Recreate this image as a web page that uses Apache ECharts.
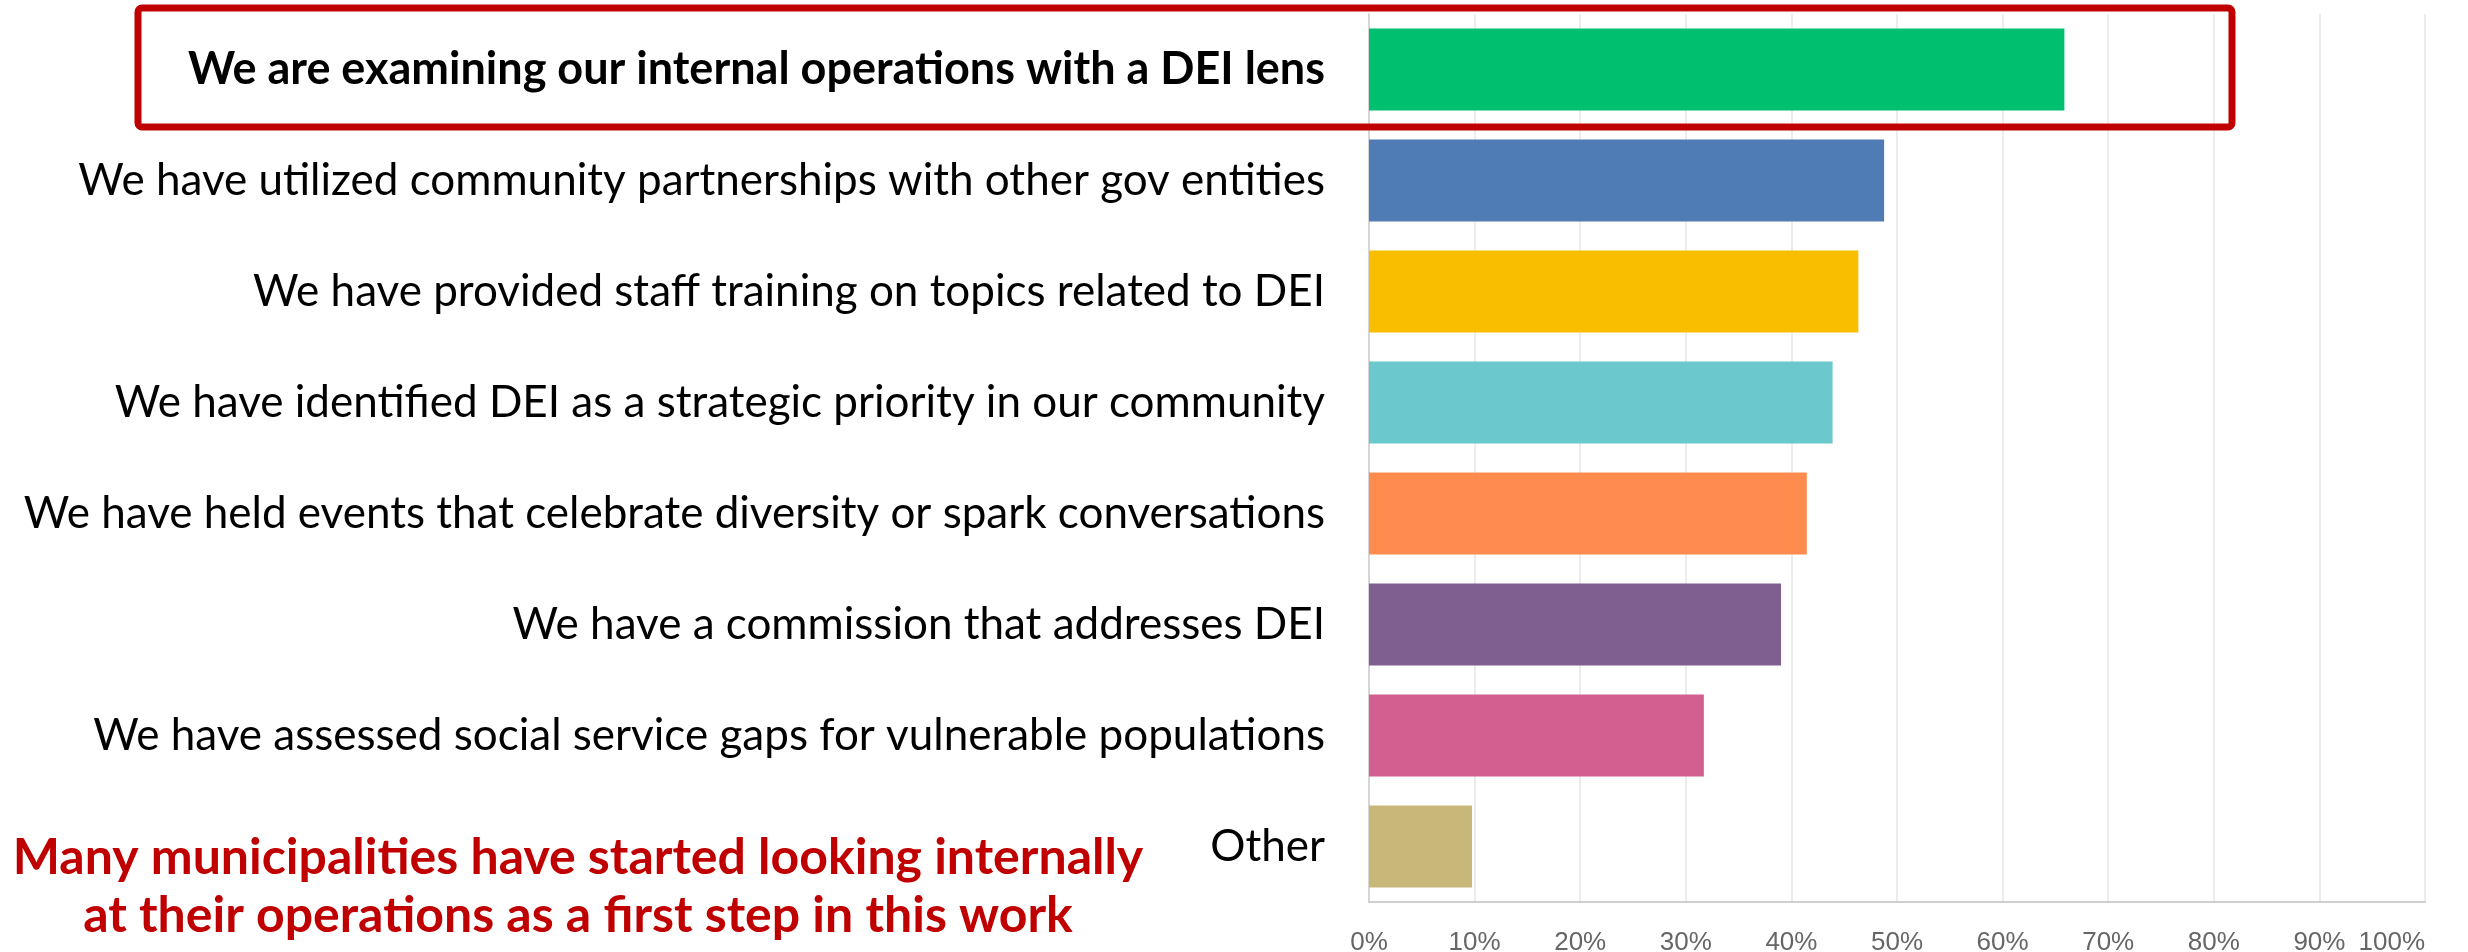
<!DOCTYPE html>
<html>
<head>
<meta charset="utf-8">
<script src="https://cdn.jsdelivr.net/npm/echarts@6/dist/echarts.min.js"></script>
<style>html,body{margin:0;padding:0;background:#fff;}#c{width:2468px;height:952px;}</style>
</head>
<body>
<div id="c"></div>
<script>
const categories = [
  "We are examining our internal operations with a DEI lens",
  "We have utilized community partnerships with other gov entities",
  "We have provided staff training on topics related to DEI",
  "We have identified DEI as a strategic priority in our community",
  "We have held events that celebrate diversity or spark conversations",
  "We have a commission that addresses DEI",
  "We have assessed social service gaps for vulnerable populations",
  "Other"
];
const values = [65.85, 48.78, 46.34, 43.90, 41.46, 39.02, 31.71, 9.76];
const barColors = ["#00bf6f", "#507cb6", "#f9be00", "#6bc8cd", "#ff8b4f", "#7f5f90", "#d25f90", "#c7b879"];
const tickLabels = ["0%", "10%", "20%", "30%", "40%", "50%", "60%", "70%", "80%", "90%", "100%"];
const noteLines = ["Many municipalities have started looking internally", "at their operations as a first step in this work"];

const chart = echarts.init(document.getElementById('c'), null, {renderer: 'canvas'});
const FONT = 'Lato, "Noto Sans", sans-serif';
chart.setOption({
  backgroundColor: '#ffffff',
  animation: false,
  grid: {left: 1369, right: 43, top: 14, bottom: 50, containLabel: false, outerBoundsMode: 'none'},
  xAxis: {
    type: 'value', min: 0, max: 100, interval: 10,
    axisLine: {show: true, lineStyle: {color: '#cfcfcf', width: 2}},
    axisTick: {show: false},
    splitLine: {show: true, lineStyle: {color: '#ececec', width: 2}},
    axisLabel: {
      formatter: (v) => tickLabels[Math.round(v / 10)],
      color: '#666', fontFamily: 'Arial, "Liberation Sans", sans-serif', fontSize: 26, margin: 28,
      alignMaxLabel: 'right'
    }
  },
  yAxis: {
    type: 'category', data: categories, inverse: true,
    axisLine: {show: true, lineStyle: {color: '#d6d6d6', width: 2}},
    axisTick: {show: false},
    axisLabel: {
      margin: 44, color: '#000', fontFamily: FONT, fontSize: 44,
      formatter: (v, i) => i === 0 ? '{b|' + v + '}' : v,
      rich: {b: {fontWeight: 'bold', fontFamily: FONT, fontSize: 45, color: '#000'}}
    }
  },
  series: [{
    type: 'bar',
    data: values.map((v, i) => ({value: v, itemStyle: {color: barColors[i]}})),
    barCategoryGap: '26%'
  }],
  graphic: [
    {type: 'rect', shape: {x: 138, y: 8, width: 2094, height: 119, r: 4},
     style: {fill: 'none', stroke: '#c00000', lineWidth: 7}, z: 100},
    {type: 'text', x: 578, y: 858, style: {text: noteLines[0], fill: '#c00000', font: 'bold 50px ' + FONT, textAlign: 'center', textVerticalAlign: 'middle'}},
    {type: 'text', x: 578, y: 916, style: {text: noteLines[1], fill: '#c00000', font: 'bold 50px ' + FONT, textAlign: 'center', textVerticalAlign: 'middle'}}
  ]
});
</script>
</body>
</html>
